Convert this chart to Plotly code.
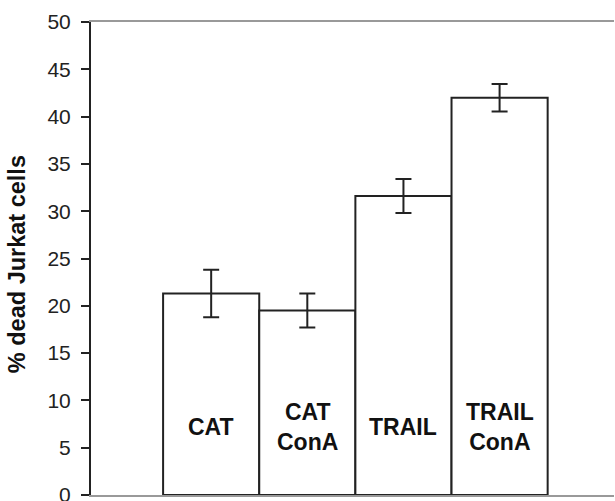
import plotly.graph_objects as go

categories = ["CAT", "CAT ConA", "TRAIL", "TRAIL ConA"]
bar_labels = ["CAT", "CAT<br>ConA", "TRAIL", "TRAIL<br>ConA"]
values = [21.3, 19.5, 31.6, 42.0]
errors = [2.5, 1.8, 1.8, 1.45]
y_ticks = [0, 5, 10, 15, 20, 25, 30, 35, 40, 45, 50]
y_title = "% dead Jurkat cells"

DARK = "#222222"
FONT = "Liberation Sans, Arial, sans-serif"

fig = go.Figure()
fig.add_trace(go.Bar(
    x=list(range(len(categories))),
    y=values,
    marker=dict(color="white", line=dict(color=DARK, width=2)),
    error_y=dict(type="data", array=errors, visible=True,
                 color=DARK, thickness=2, width=8),
    width=1.0,
    hoverinfo="skip",
))

for i, lab in enumerate(bar_labels):
    fig.add_annotation(
        x=i, y=7.2, xref="x", yref="y", text=f"<b>{lab}</b>",
        showarrow=False, font=dict(family=FONT, size=23, color="#111111"),
        xanchor="center", yanchor="middle",
    )

fig.add_annotation(
    x=-0.1415, y=0.488, xref="paper", yref="paper", text=f"<b>{y_title}</b>",
    textangle=-90, showarrow=False, xanchor="center", yanchor="middle",
    font=dict(family=FONT, size=23.5, color="#111111"),
)

fig.update_layout(
    width=615, height=501,
    margin=dict(l=91, r=1, t=22, b=6, autoexpand=False),
    paper_bgcolor="white", plot_bgcolor="white",
    showlegend=False, bargap=0,
    xaxis=dict(range=[-1.25, 4.19], showticklabels=False, ticks="",
               showgrid=False, zeroline=False, automargin=False,
               showline=True, linecolor="#999999", linewidth=2, mirror=True),
    yaxis=dict(range=[0, 50], tickvals=y_ticks, ticks="outside", ticklen=8,
               tickwidth=2, tickcolor=DARK, showgrid=False, zeroline=False,
               showline=True, linecolor=DARK, linewidth=2, automargin=False,
               ticklabelstandoff=6, ticklabeloverflow="allow",
               tickfont=dict(family=FONT, size=21, color="#222222")),
)

fig.write_html(
    "out.html",
    config={"displayModeBar": False, "staticPlot": True},
    post_script="document.body.style.margin='0';document.body.style.overflow='hidden';",
)
